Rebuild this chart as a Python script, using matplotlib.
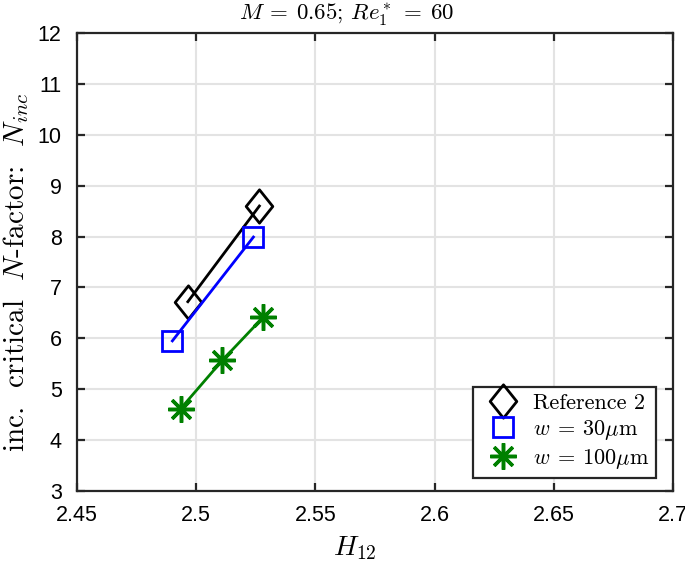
import matplotlib
matplotlib.use("Agg")
import matplotlib.pyplot as plt
from matplotlib.path import Path

plt.rcParams['mathtext.fontset'] = 'cm'
plt.rcParams['font.family'] = ['Liberation Sans', 'DejaVu Sans']

# data
ref_h12 = [2.4965, 2.5265]
ref_n = [6.72, 8.60]
w30_h12 = [2.4900, 2.5240]
w30_n = [5.95, 7.99]
w100_h12 = [2.4935, 2.5110, 2.5280]
w100_n = [4.62, 5.57, 6.41]

xticks = [2.45, 2.5, 2.55, 2.6, 2.65, 2.7]
xtick_labels = ['2.45', '2.5', '2.55', '2.6', '2.65', '2.7']
yticks = list(range(3, 13))

# matlab-like diamond (a bit taller than wide)
diamond = Path([(0, 1), (0.8, 0), (0, -1), (-0.8, 0), (0, 1)],
               [Path.MOVETO, Path.LINETO, Path.LINETO, Path.LINETO, Path.CLOSEPOLY])

fig = plt.figure(figsize=(6.85, 5.62), dpi=100)
ax = fig.add_axes([77 / 685, 1 - 491 / 562, 596 / 685, 458 / 562])

ax.plot(ref_h12, ref_n, color='black', lw=2, marker=diamond, ms=24,
        mfc='none', mew=2, label='Reference 2')
ax.plot(w30_h12, w30_n, color='blue', lw=2, marker='s', ms=14.5,
        mfc='none', mew=2, label=r'$w\:=\:30\mu\mathrm{m}$')
ax.plot(w100_h12, w100_n, color='green', lw=2, marker=(8, 2, 0), ms=19,
        mew=2.5, label=r'$w\:=\:100\mu\mathrm{m}$')

ax.set_xlim(2.45, 2.7)
ax.set_ylim(3, 12)
ax.set_xticks(xticks)
ax.set_xticklabels(xtick_labels)
ax.set_yticks(yticks)

ax.grid(True, color='#e3e3e3', lw=1.5)
ax.set_axisbelow(True)
for s in ax.spines.values():
    s.set_color('#262626')
    s.set_linewidth(1.6)
ax.tick_params(direction='in', length=6, width=1.6, color='#262626',
               labelsize=15.5, top=True, right=True)
ax.tick_params(axis='x', pad=10)
ax.tick_params(axis='y', pad=11)

fig.text(347 / 685, 1 - 20 / 562, r'$M\:=\:0.65$; $Re_1^*\:=\:60$',
         fontsize=16.5, family='cmr10', ha='center', va='baseline')
ax.set_xlabel(r'$H_{12}$', fontsize=20)
ax.xaxis.set_label_coords(0.466, -0.095)
ax.set_ylabel(r'inc.  critical  $N$-factor:  $N_{inc}$', fontsize=21,
              family='cmr10')
ax.yaxis.set_label_coords(-0.077, 0.478)

leg = ax.legend(loc='lower right', bbox_to_anchor=(0.99, 0.005),
                frameon=True, fancybox=False, framealpha=1, edgecolor='#262626',
                borderpad=0.3, handletextpad=0.3, labelspacing=0.22,
                handlelength=2.1, prop={'family': 'cmr10', 'size': 16})
leg.get_frame().set_linewidth(1.6)
for h in leg.legend_handles:
    h.set_linestyle('none')

fig.savefig('out.png', dpi=100)
